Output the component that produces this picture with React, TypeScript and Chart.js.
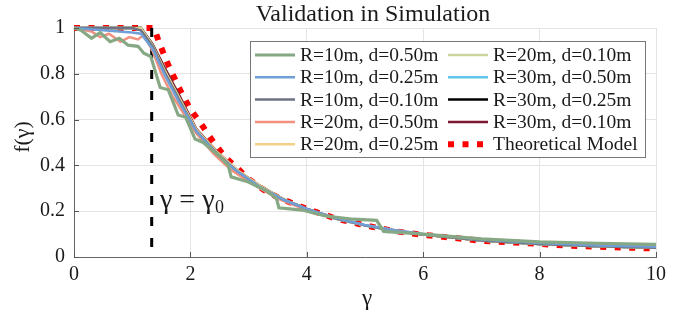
import React, { useEffect, useRef } from "react";
import { Chart, registerables } from "chart.js";

Chart.register(...registerables);

const titleText = "Validation in Simulation";
const xTicks = [0, 2, 4, 6, 8, 10];
const yTicks = [0, 0.2, 0.4, 0.6, 0.8, 1];
const gamma0 = 1.335;

const seriesNames = [
  "R=10m, d=0.50m",
  "R=10m, d=0.25m",
  "R=10m, d=0.10m",
  "R=20m, d=0.50m",
  "R=20m, d=0.25m",
  "R=20m, d=0.10m",
  "R=30m, d=0.50m",
  "R=30m, d=0.25m",
  "R=30m, d=0.10m",
  "Theoretical Model",
];
const seriesColors = [
  "#86a884",
  "#6f9fd6",
  "#6e7282",
  "#f3907f",
  "#f3d088",
  "#cad59e",
  "#5fc6ea",
  "#000000",
  "#7c1832",
  "#ff0000",
];

// R=10m, d=0.50m (jagged)
const greenX = [0, 0.12, 0.3, 0.45, 0.62, 0.78, 0.93, 1.1, 1.2, 1.32, 1.48, 1.62, 1.79, 1.92, 2.08, 2.22, 2.5, 2.65, 2.7, 2.97, 3.3, 3.48, 3.52, 3.92, 4.3, 4.8, 5.2, 5.32, 6.0, 7.0, 8.0, 9.0, 10];
const greenY = [1, 0.99, 0.955, 0.98, 0.94, 0.955, 0.925, 0.92, 0.89, 0.875, 0.74, 0.73, 0.62, 0.61, 0.515, 0.5, 0.44, 0.4, 0.35, 0.33, 0.29, 0.255, 0.215, 0.205, 0.18, 0.165, 0.16, 0.112, 0.1, 0.079, 0.066, 0.06, 0.055];

// R=20m, d=0.50m
const salmonX = [0, 0.3, 0.45, 0.6, 0.8, 0.95, 1.1, 1.2, 1.35, 1.5, 1.7, 1.9, 2.1, 2.4, 2.7, 3.0, 3.5, 4.0, 5.0, 6.0, 7.0, 8.0, 9.0, 10];
const salmonY = [1, 0.985, 0.96, 0.975, 0.94, 0.96, 0.95, 0.97, 0.9, 0.8, 0.7, 0.62, 0.54, 0.45, 0.38, 0.33, 0.255, 0.205, 0.138, 0.098, 0.074, 0.06, 0.05, 0.045];

// common grid for the smoother simulations
const simX = [0, 0.5, 1.0, 1.15, 1.35, 1.55, 1.8, 2.1, 2.45, 2.8, 3.2, 3.6, 4.0, 4.5, 5.0, 5.5, 6.0, 7.0, 8.0, 9.0, 10];
const blueY = [1, 0.99, 0.98, 0.975, 0.91, 0.8, 0.68, 0.55, 0.45, 0.375, 0.305, 0.25, 0.21, 0.17, 0.14, 0.118, 0.1, 0.076, 0.061, 0.05, 0.045];
const grayY = [1, 1, 1, 0.99, 0.92, 0.81, 0.69, 0.55, 0.455, 0.375, 0.305, 0.25, 0.21, 0.168, 0.138, 0.115, 0.098, 0.072, 0.057, 0.047, 0.04];
const yellowY = [1, 1, 1, 0.995, 0.92, 0.815, 0.695, 0.555, 0.46, 0.38, 0.31, 0.252, 0.21, 0.168, 0.138, 0.115, 0.098, 0.072, 0.057, 0.047, 0.04];
const oliveY = [1, 1, 1, 1, 0.925, 0.82, 0.7, 0.555, 0.46, 0.38, 0.31, 0.252, 0.21, 0.168, 0.138, 0.115, 0.098, 0.072, 0.057, 0.047, 0.04];
const cyanY = [1, 1, 1, 0.99, 0.91, 0.8, 0.68, 0.545, 0.45, 0.37, 0.3, 0.248, 0.207, 0.167, 0.137, 0.115, 0.098, 0.072, 0.057, 0.047, 0.04];
const blackY = [1, 1, 1, 1, 0.925, 0.82, 0.7, 0.55, 0.46, 0.378, 0.31, 0.252, 0.21, 0.168, 0.138, 0.115, 0.098, 0.072, 0.057, 0.047, 0.04];
const darkRedY = [1, 1, 1, 1, 0.93, 0.83, 0.71, 0.56, 0.462, 0.38, 0.31, 0.252, 0.21, 0.168, 0.138, 0.115, 0.098, 0.072, 0.057, 0.047, 0.04];

// Theoretical model
const theoX = [0, 0.5, 1.0, 1.38, 1.45, 1.6, 1.8, 2.0, 2.2, 2.4, 2.6, 2.8, 3.0, 3.25, 3.5, 3.75, 4.0, 4.5, 5.0, 5.5, 6.0, 6.5, 7.0, 7.5, 8.0, 8.5, 9.0, 9.5, 10];
const theoY = [1, 1, 1, 1, 0.945, 0.85, 0.74, 0.645, 0.575, 0.5, 0.435, 0.39, 0.34, 0.295, 0.26, 0.235, 0.21, 0.168, 0.138, 0.113, 0.097, 0.084, 0.071, 0.064, 0.057, 0.05, 0.045, 0.041, 0.037];

const pts = (xs: number[], ys: number[]) => xs.map((x, i) => ({ x, y: ys[i] }));

const SERIF = '"Liberation Serif", "Times New Roman", serif';

export default function App() {
  const ref = useRef<HTMLCanvasElement | null>(null);

  useEffect(() => {
    document.body.style.margin = "0";
    const canvas = ref.current;
    if (!canvas) return;

    const seriesData = [
      pts(greenX, greenY),
      pts(simX, blueY),
      pts(simX, grayY),
      pts(salmonX, salmonY),
      pts(simX, yellowY),
      pts(simX, oliveY),
      pts(simX, cyanY),
      pts(simX, blackY),
      pts(simX, darkRedY),
    ];

    const datasets: any[] = seriesData.map((d, i) => ({
      label: seriesNames[i],
      data: d,
      borderColor: seriesColors[i],
      borderWidth: i === 0 ? 3.2 : 2.5,
      pointRadius: 0,
      tension: 0,
      clip: false,
    }));
    datasets.push({
      label: "gamma0",
      data: [
        { x: gamma0, y: 1 },
        { x: gamma0, y: 0 },
      ],
      borderColor: "#000",
      borderWidth: 3,
      borderDash: [9, 12],
      pointRadius: 0,
      clip: false,
    });
    datasets.push({
      label: seriesNames[9],
      data: pts(theoX, theoY),
      borderColor: seriesColors[9],
      borderWidth: 6,
      borderDash: [6, 8.5],
      borderCapStyle: "butt",
      pointRadius: 0,
      tension: 0,
      clip: false,
    });

    const extras = {
      id: "extras",
      afterDraw(chart: any) {
        const { ctx, chartArea: a, scales } = chart;
        const xs = scales.x;
        const ys = scales.y;
        ctx.save();
        // inward tick marks
        ctx.strokeStyle = "#555";
        ctx.lineWidth = 1;
        ctx.beginPath();
        for (const v of xTicks) {
          const px = Math.round(xs.getPixelForValue(v)) + 0.5;
          ctx.moveTo(px, a.bottom);
          ctx.lineTo(px, a.bottom - 5);
        }
        for (const v of yTicks) {
          const py = Math.round(ys.getPixelForValue(v)) + 0.5;
          ctx.moveTo(a.left, py);
          ctx.lineTo(a.left + 5, py);
        }
        ctx.stroke();

        // title
        ctx.fillStyle = "#1a1a1a";
        ctx.font = `24px ${SERIF}`;
        ctx.textAlign = "center";
        ctx.textBaseline = "middle";
        ctx.fillText(titleText, 373, 15);

        // x title
        ctx.font = `23px ${SERIF}`;
        ctx.fillText("γ", 367, 299);

        // y title
        ctx.save();
        ctx.translate(23, 137);
        ctx.rotate(-Math.PI / 2);
        ctx.font = `22px ${SERIF}`;
        ctx.fillText("f(γ)", 0, 0);
        ctx.restore();

        // annotation gamma = gamma0
        ctx.textAlign = "left";
        ctx.textBaseline = "alphabetic";
        ctx.font = `28px ${SERIF}`;
        const s1 = "γ = γ";
        ctx.fillText(s1, 160, 208);
        const w1 = ctx.measureText(s1).width;
        ctx.font = `18px ${SERIF}`;
        ctx.fillText("0", 160 + w1 + 0.5, 213);

        // legend
        const lx = 250.5, ly = 41.5, lw = 395, lh = 116;
        ctx.fillStyle = "#fff";
        ctx.fillRect(lx, ly, lw, lh);
        ctx.strokeStyle = "#777";
        ctx.lineWidth = 1;
        ctx.strokeRect(lx, ly, lw, lh);
        const rowY = [55, 77.3, 99.6, 121.9, 144.2];
        const colX = [255, 448];
        ctx.font = `19.5px ${SERIF}`;
        ctx.textBaseline = "middle";
        for (let i = 0; i < 10; i++) {
          const c = Math.floor(i / 5);
          const r = i % 5;
          const x0 = colX[c];
          const y0 = rowY[r];
          ctx.save();
          ctx.strokeStyle = seriesColors[i];
          if (i === 9) {
            ctx.lineWidth = 6;
            ctx.setLineDash([6, 8.5]);
            ctx.lineCap = "butt";
          } else {
            ctx.lineWidth = i === 0 ? 3.2 : 2.5;
          }
          ctx.beginPath();
          ctx.moveTo(x0, y0);
          ctx.lineTo(x0 + 40, y0);
          ctx.stroke();
          ctx.restore();
          ctx.fillStyle = "#1a1a1a";
          ctx.fillText(seriesNames[i], x0 + 45, y0 + 1);
        }
        ctx.restore();
      },
    };

    const chart = new Chart(canvas, {
      type: "line",
      data: { datasets },
      options: {
        responsive: false,
        animation: false,
        devicePixelRatio: 1,
        layout: { padding: { top: 28, right: 27, left: 0, bottom: 0 } },
        plugins: {
          legend: { display: false },
          tooltip: { enabled: false },
          title: { display: false },
        },
        scales: {
          x: {
            type: "linear",
            min: 0,
            max: 10,
            afterFit: (s: any) => {
              s.height = 67;
            },
            afterBuildTicks: (s: any) => {
              s.ticks = xTicks.map((v) => ({ value: v }));
            },
            grid: { color: "#e4e4e4", lineWidth: 1, drawTicks: false },
            border: { display: true, color: "#666", width: 1 },
            ticks: {
              color: "#1a1a1a",
              font: { family: SERIF, size: 20 },
              padding: 6,
              maxRotation: 0,
            },
          },
          y: {
            type: "linear",
            min: 0,
            max: 1,
            afterFit: (s: any) => {
              s.width = 74;
            },
            afterBuildTicks: (s: any) => {
              s.ticks = yTicks.map((v) => ({ value: v }));
            },
            grid: { color: "#e4e4e4", lineWidth: 1, drawTicks: false },
            border: { display: true, color: "#666", width: 1 },
            ticks: {
              color: "#1a1a1a",
              font: { family: SERIF, size: 20 },
              padding: 9,
              callback: (v: any) => String(Math.round(Number(v) * 10) / 10),
            },
          },
        },
      },
      plugins: [extras],
    });

    return () => chart.destroy();
  }, []);

  return (
    <div style={{ position: "fixed", left: 0, top: 0, width: 683, height: 324, background: "#fff" }}>
      <canvas ref={ref} width={683} height={324} style={{ width: 683, height: 324, display: "block" }} />
    </div>
  );
}
